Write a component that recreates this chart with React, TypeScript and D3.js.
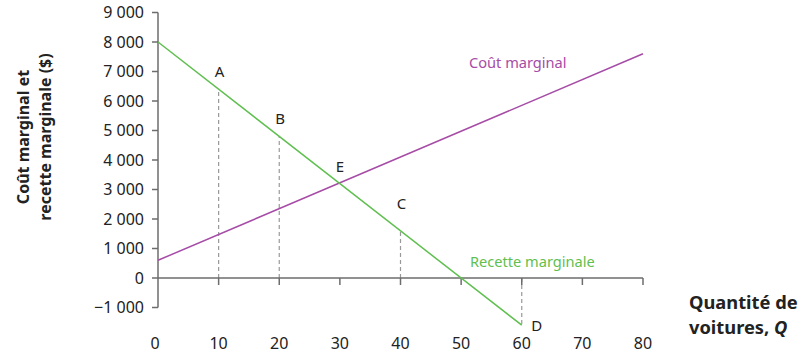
import React from "react";
import * as d3 from "d3";

const xTicks = [0, 10, 20, 30, 40, 50, 60, 70, 80];
const yTicks = [-1000, 0, 1000, 2000, 3000, 4000, 5000, 6000, 7000, 8000, 9000];
const mrQ = [0, 60];
const mrV = [8000, -1600];
const mcQ = [0, 80];
const mcV = [600, 7600];
const pointLabels = ["A", "B", "E", "C", "D"];
const pointQ = [10, 20, 30, 40, 60];
const dashedQ = [10, 20, 40, 60];

const W = 809, H = 361;
const GREEN = "#5fbf4f";
const PURPLE = "#a64ca6";
const AXIS = "#6d6d6d";
const TEXT = "#222";
const FONT = "'Noto Sans', 'Open Sans', sans-serif";

const fmt = (v: number) => {
  const s = d3.format(",")(Math.abs(v)).replace(/,/g, " ");
  return (v < 0 ? "\u2212" : "") + s;
};

export default function App() {
  const x = d3.scaleLinear().domain([0, 80]).range([158, 643]);
  const y = d3.scaleLinear().domain([-1000, 9000]).range([307.5, 12.5]);
  const mr = (q: number) => mrV[0] + ((mrV[1] - mrV[0]) / (mrQ[1] - mrQ[0])) * q;
  const line = d3.line<[number, number]>().x(d => x(d[0])).y(d => y(d[1]));
  const mrPts: [number, number][] = mrQ.map((q, i) => [q, mrV[i]]);
  const mcPts: [number, number][] = mcQ.map((q, i) => [q, mcV[i]]);

  const labelPos: Record<string, [number, number]> = {
    A: [1, -12], B: [1, -12], E: [0, -12], C: [1, -22], D: [15, 6],
  };

  return (
    <svg width={W} height={H} style={{ position: "absolute", left: 0, top: 0 }} fontFamily={FONT}>
      <rect width={W} height={H} fill="#fff" />
      {dashedQ.map(q => (
        <line key={q} x1={x(q)} x2={x(q)} y1={y(0)} y2={y(mr(q))} stroke="#999" strokeWidth={1.2} strokeDasharray="4,3" />
      ))}
      <line x1={x(0)} x2={x(0)} y1={y(9000)} y2={y(-1000)} stroke={AXIS} strokeWidth={1.5} />
      {yTicks.map(t => (
        <g key={t}>
          <line x1={x(0) - 6} x2={x(0)} y1={y(t)} y2={y(t)} stroke={AXIS} strokeWidth={1.5} />
          <text x={x(0) - 14} y={y(t)} dy="0.35em" textAnchor="end" fontSize={16} fill={TEXT}>{fmt(t)}</text>
        </g>
      ))}
      <line x1={x(0)} x2={x(80)} y1={y(0)} y2={y(0)} stroke={AXIS} strokeWidth={1.5} />
      {xTicks.map(t => (
        <g key={t}>
          {t > 0 && <line x1={x(t)} x2={x(t)} y1={y(0)} y2={y(0) + 7} stroke={AXIS} strokeWidth={1.5} />}
          <text x={x(t) - (t === 0 ? 3 : 0)} y={343} dy="0.35em" textAnchor="middle" fontSize={16} fill={TEXT}>{t}</text>
        </g>
      ))}
      <path d={line(mcPts) || ""} fill="none" stroke={PURPLE} strokeWidth={1.5} />
      <path d={line(mrPts) || ""} fill="none" stroke={GREEN} strokeWidth={1.5} />
      {pointLabels.map((l, i) => {
        const q = pointQ[i];
        const [dx, dy] = labelPos[l];
        return (
          <text key={l} x={x(q) + dx} y={y(mr(q)) + dy} textAnchor="middle" fontSize={15} fill={TEXT}>{l}</text>
        );
      })}
      <text x={469} y={68} fontSize={14.6} fill={PURPLE}>Coût marginal</text>
      <text x={470} y={267} fontSize={14.6} fill={GREEN}>Recette marginale</text>
      <text transform={`translate(31,137) rotate(-90)`} textAnchor="middle" fontSize={16} fontWeight="bold" fill={TEXT}>
        <tspan x={0} dy="-0.1em">Coût marginal et</tspan>
        <tspan x={0} dy="1.35em">recette marginale ($)</tspan>
      </text>
      <text x={689} y={309} fontSize={18.3} fontWeight="bold" fill={TEXT}>Quantité de</text>
      <text x={689} y={334} fontSize={18.3} fontWeight="bold" fill={TEXT}>voitures, <tspan fontStyle="italic">Q</tspan></text>
    </svg>
  );
}
